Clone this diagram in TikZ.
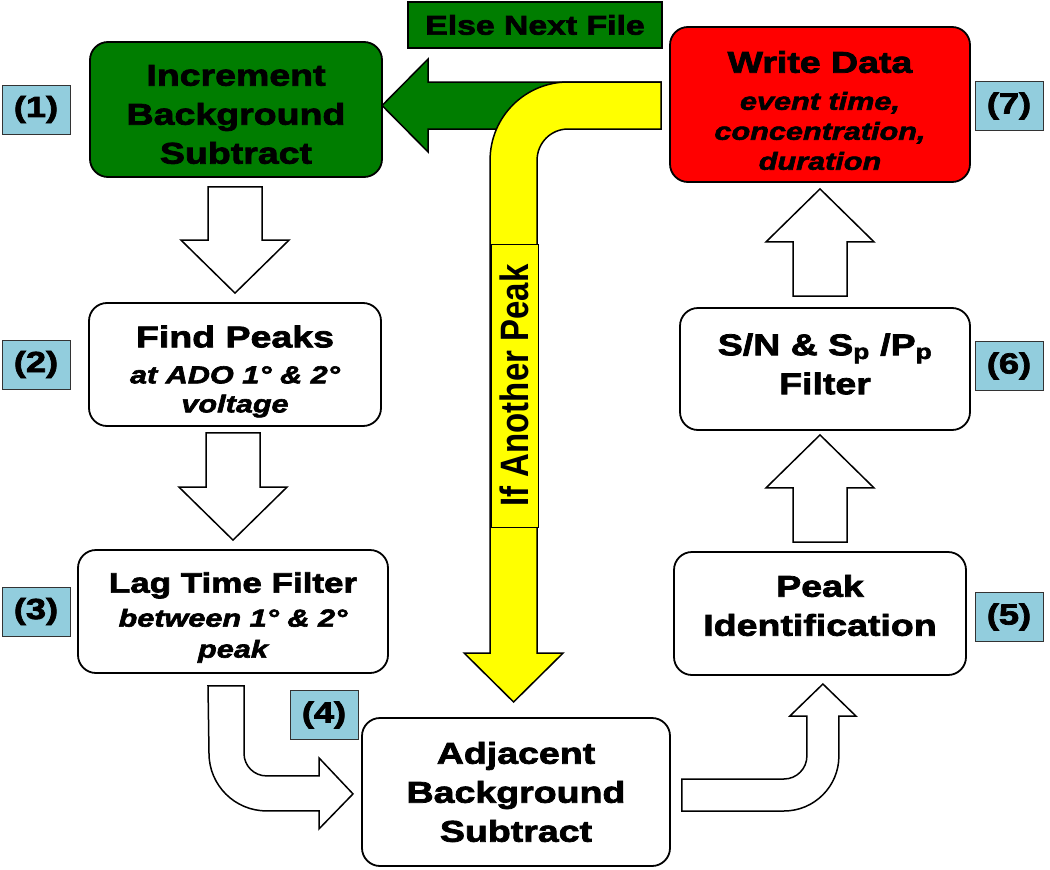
\documentclass[tikz,border=0pt]{standalone}
\usepackage{fontspec}
\usepackage{graphicx}
\setmainfont{Liberation Sans}[FakeStretch=1.25,
  BoldFeatures={FakeBold=2.5}, BoldItalicFeatures={FakeBold=2.5}]
\newfontfamily\peakfont{Liberation Sans}
\usetikzlibrary{calc}

\definecolor{boxgreen}{RGB}{0,125,0}
\definecolor{boxred}{RGB}{255,0,0}
\definecolor{arrowyellow}{RGB}{255,255,0}
\definecolor{labelblue}{RGB}{146,205,221}

\newcommand{\stepsub}{\fontsize{24.5}{30}\selectfont\bfseries\itshape}
% one text line, moved down by the box's text shift
\def\tshift{0pt}
\newcommand{\stepline}[1]{\raisebox{-\tshift}[\height][\depth]{#1}}

% hollow block arrows, straight up or down
\newcommand{\blockdown}[2]{%
  \draw[blockarrow] let \p1=(#1), \p2=(#2) in
    (\x2-27pt,\y1) -- (\x2-27pt,\y2+53pt) -- (\x2-54pt,\y2+53pt) -- (\x2,\y2)
    -- (\x2+54pt,\y2+53pt) -- (\x2+27pt,\y2+53pt) -- (\x2+27pt,\y1) -- cycle;}
\newcommand{\blockup}[2]{%
  \draw[blockarrow] let \p1=(#1), \p2=(#2) in
    (\x2-27pt,\y1) -- (\x2-27pt,\y2-53pt) -- (\x2-54pt,\y2-53pt) -- (\x2,\y2)
    -- (\x2+54pt,\y2-53pt) -- (\x2+27pt,\y2-53pt) -- (\x2+27pt,\y1) -- cycle;}

\tikzset{
  stepbox/.style={draw, line width=1.8pt, rounded corners=18pt, align=center,
    inner sep=0pt, font=\fontsize{30}{39}\selectfont\bfseries},
  textdown/.code={\def\tshift{#1}},
  numlabel/.style={draw=black!80, line width=1pt, fill=labelblue, minimum width=68pt,
    minimum height=49pt, inner sep=0pt, font=\fontsize{29}{34}\selectfont\bfseries},
  blockarrow/.style={draw, line width=1.5pt, fill=white, line join=miter},
}

\begin{document}
\begin{tikzpicture}[x=1pt,y=1pt]
  \useasboundingbox (0,0) rectangle (1050,-870);

  % steps
  \node[stepbox, fill=boxgreen, minimum width=292pt, minimum height=135pt, textdown=5pt] (incr) at (236,-109.5)
    {\stepline{Increment}\\\stepline{Background}\\\stepline{Subtract}};
  \node[stepbox, fill=white, minimum width=292pt, minimum height=123pt, textdown=7pt] (find) at (235,-364.5)
    {\stepline{Find Peaks}\\[-3pt]\stepline{\stepsub at ADO 1°~\&~2°}\\[-10pt]\stepline{\stepsub voltage}};
  \node[stepbox, fill=white, minimum width=310pt, minimum height=123pt, textdown=6pt] (lag) at (233,-611.5)
    {\stepline{\fontsize{28}{36}\selectfont Lag Time Filter}\\[-5pt]\stepline{\stepsub between 1°~\&~2°}\\[-8pt]\stepline{\stepsub peak}};
  \node[stepbox, fill=white, minimum width=308pt, minimum height=148pt] (adj) at (516,-792)
    {Adjacent\\Background\\Subtract};
  \node[stepbox, fill=white, minimum width=292pt, minimum height=123pt, textdown=-8pt] (peakid) at (820,-613.5)
    {\stepline{Peak}\\\stepline{Identification}};
  \node[stepbox, fill=white, minimum width=290pt, minimum height=122pt, textdown=-5pt] (snfilter) at (825,-369)
    {\stepline{S/N \& S\textsubscript{p} /P\textsubscript{p}}\\\stepline{Filter}};
  \node[stepbox, fill=boxred, minimum width=300pt, minimum height=155pt, textdown=6pt] (write) at (820,-104.5)
    {\stepline{Write Data}\\[-2pt]\stepline{\stepsub event time,}\\[-9pt]\stepline{\stepsub concentration,}\\[-9pt]\stepline{\stepsub duration}};
  \node[draw, line width=1.2pt, fill=boxgreen, minimum width=254pt, minimum height=46pt, inner sep=0pt,
    font=\fontsize{27}{30}\selectfont\bfseries] (elsefile) at (535,-25) {Else Next File};

  % step numbers
  \node[numlabel] (n1) at (36,-109.5) {(1)};
  \node[numlabel] (n2) at (36,-364.5) {(2)};
  \node[numlabel] (n3) at (36,-611.5) {(3)};
  \node[numlabel] (n4) at (324,-715) {(4)};
  \node[numlabel] (n5) at (1009,-617) {(5)};
  \node[numlabel] (n6) at (1009,-366) {(6)};
  \node[numlabel] (n7) at (1009,-106) {(7)};

  % straight arrows
  \blockdown{$(incr.south)+(0,-9)$}{$(find.north)+(0,9)$}
  \blockdown{$(find.south)+(0,-6)$}{$(lag.north)+(0,9)$}
  \blockup{$(peakid.north)+(0,9)$}{$(snfilter.south -| peakid.north)+(0,-4)$}
  \blockup{$(snfilter.north -| write.south)+(0,11)$}{$(write.south)+(0,-6)$}

  % bent arrows
  \draw[blockarrow] ($(lag.south)+(-25,-12)$) -- ++(36,0) -- ++(0,-67.5)
    arc[start angle=180, end angle=270, radius=22.5] -- ++(52.5,0) -- ++(0,18)
    -- ++(34,-36) -- ++(-34,-35) -- ++(0,18) -- ++(-52.5,0)
    arc[start angle=270, end angle=180, radius=57.5] -- cycle;
  \draw[blockarrow] ($(adj.east)+(11,13)$) -- ++(102,0)
    arc[start angle=270, end angle=360, radius=23] -- ++(0,40) -- ++(-17,0)
    -- ++(33,32) -- ++(33,-32) -- ++(-17,0) -- ++(0,-40)
    arc[start angle=0, end angle=-90, radius=55] -- ++(-102,0) -- cycle;

  % loop back to next file / next peak
  \draw[blockarrow, fill=boxgreen] ($(write.west)+(-8,22.5)$) -- ++(-233,0) -- ++(0,23)
    -- ++(-46,-46.5) -- ++(46,-46.5) -- ++(0,23) -- ++(233,0) -- cycle;
  \draw[blockarrow, fill=arrowyellow] ($(write.west)+(-8,22.5)$) -- ++(-93,0)
    arc[start angle=90, end angle=180, radius=78] -- ++(0,-493) -- ++(-26,0)
    -- ++(49.5,-49) -- ++(49.5,49) -- ++(-26,0) -- ++(0,493)
    arc[start angle=180, end angle=90, radius=31] -- ++(93,0) -- cycle;
  \node[draw, line width=1pt, fill=arrowyellow, rotate=90, minimum width=283pt, minimum height=47pt,
    inner sep=0pt] (another) at (514.5,-385.5)
    {\scalebox{1}[1.2]{\fontsize{33}{33}\selectfont\peakfont\bfseries If Another Peak}};
\end{tikzpicture}
\end{document}
